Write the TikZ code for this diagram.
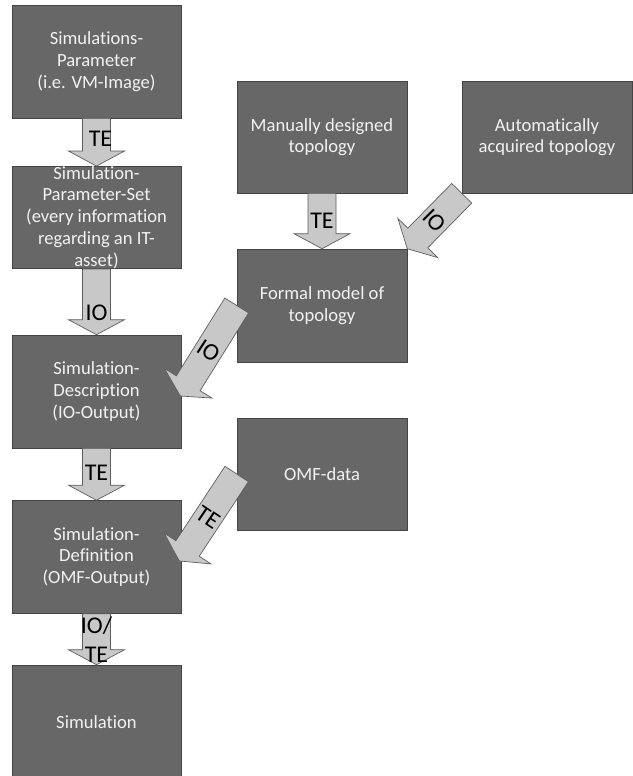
\documentclass[tikz,border=0pt]{standalone}
\usepackage{fontspec}
\setmainfont{Carlito}[Ligatures=NoCommon]
\usetikzlibrary{calc}

\definecolor{boxgray}{HTML}{676767}
\definecolor{boxedge}{HTML}{444444}
\definecolor{boxtext}{HTML}{F2F2F2}
\definecolor{arrowfill}{HTML}{C8C8C8}
\definecolor{arrowedge}{HTML}{5E5E5E}

% block arrow from a tail point to a tip point (shaft 28, head 56 wide)
\newcommand{\blockarrow}[2]{%
  \coordinate (neck) at ($(#2)!15pt!(#1)$);
  \filldraw[flow]
    ($(#1)!14pt!90:(#2)$) -- ($(neck)!14pt!90:(#2)$) --
    ($(neck)!28pt!90:(#2)$) -- (#2) --
    ($(neck)!28pt!-90:(#2)$) -- ($(neck)!14pt!-90:(#2)$) --
    ($(#1)!14pt!-90:(#2)$) -- cycle;
}

\begin{document}
\begin{tikzpicture}[x=1pt,y=-1pt,
  box/.style={draw=boxedge, fill=boxgray, text=boxtext, line width=0.6pt,
    minimum width=169pt, minimum height=113pt, align=center, inner sep=0pt,
    font=\fontsize{18.6}{21.7}\selectfont},
  flow/.style={fill=arrowfill, draw=arrowedge, line width=0.7pt, line join=miter},
  flowlabel/.style={font=\fontsize{24}{29}\selectfont, text=black,
    inner sep=0pt, align=center}]

\useasboundingbox (0,0) rectangle (632,776);

% left column
\node[box] (param) at (96.5,61.5) {Simulations-\\Parameter\\(i.e. VM-Image)};
\node[box, minimum height=95pt] (pset) at (96.5,217.5)
  {Simulation-\\Parameter-Set\\(every information\\regarding an IT-\\asset)};
\node[box] (desc) at (96.5,391.5) {Simulation-\\Description\\(IO-Output)};
\node[box] (def) at (96.5,557) {Simulation-\\Definition\\(OMF-Output)};
\node[box, minimum height=115pt] (sim) at (96.5,722.5) {Simulation};

% topology sources and model
\node[box, minimum width=170pt, minimum height=112pt] (manual) at (322,137)
  {Manually designed\\topology};
\node[box, minimum width=170pt, minimum height=112pt] (auto) at (547,137)
  {Automatically\\acquired topology};
\node[box, minimum width=170pt, minimum height=113pt] (formal) at (322,305.5)
  {Formal model of\\topology};
\node[box, minimum width=170pt, minimum height=112pt] (omf) at (322,474)
  {OMF-data};

% free ends of the slanted arrows
\coordinate (descin) at ($(desc.east)+(-1,4.5)$);
\coordinate (defin) at ($(def.east)+(-2,4)$);

% arrows
\blockarrow{param.south}{pset.north}
\blockarrow{pset.south}{desc.north}
\blockarrow{desc.south}{def.north}
\blockarrow{def.south}{sim.north}
\blockarrow{manual.south}{formal.north}
\blockarrow{auto.south west}{formal.north east}
\blockarrow{formal.west}{descin}
\blockarrow{omf.west}{defin}

% arrow labels
\node[flowlabel] (l1) at ($(param.south)!0.42!(pset.north)+(4,0)$) {TE};
\node[flowlabel] (l2) at ($(pset.south)!0.66!(desc.north)$) {IO};
\node[flowlabel] (l3) at ($(desc.south)!0.48!(def.north)$) {TE};
\node[flowlabel] (l4) at ($(def.south)!0.5!(sim.north)$) {IO/\\TE};
\node[flowlabel] (l5) at ($(manual.south)!0.5!(formal.north)$) {TE};
\node[flowlabel, rotate=-45] (l6) at ($(auto.south west)!0.5!(formal.north east)$) {IO};
\node[flowlabel, rotate=-33] (l7) at ($(formal.west)!0.5!(descin)$) {IO};
\node[flowlabel, rotate=-34] (l8) at ($(omf.west)!0.5!(defin)$) {TE};

\end{tikzpicture}
\end{document}
